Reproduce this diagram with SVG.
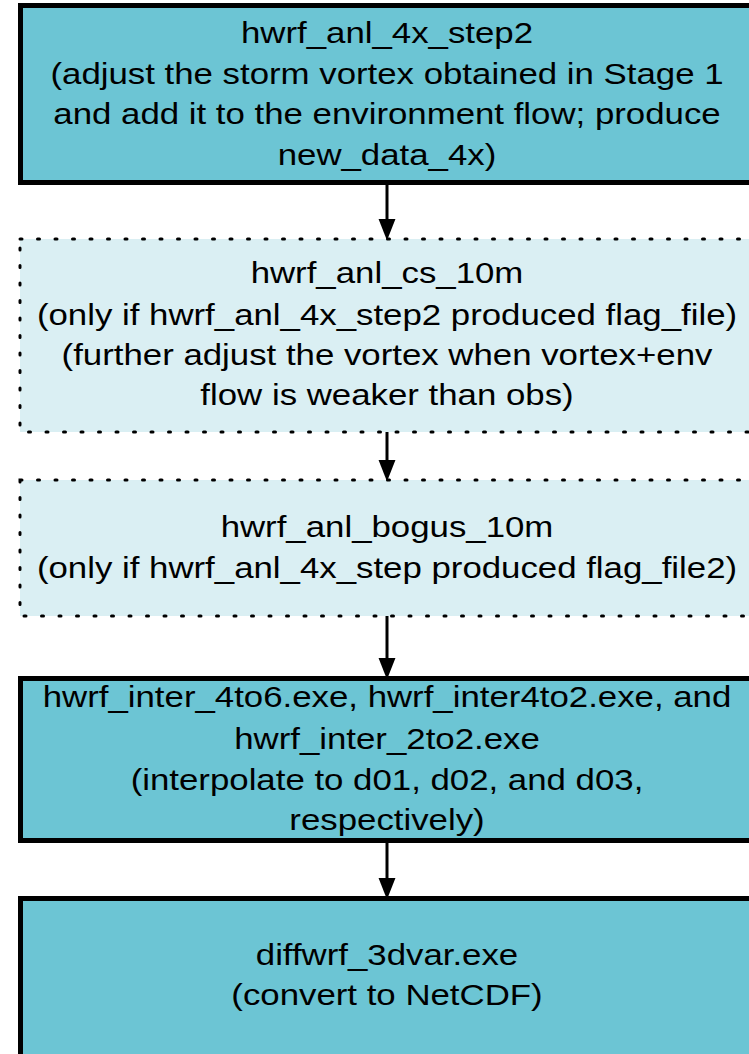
<svg xmlns="http://www.w3.org/2000/svg" width="749" height="1054" viewBox="0 0 749 1054">
<style>
.solid{fill:#6cc5d4;stroke:#000;stroke-width:5}
.dotted{fill:#daeff3;stroke:#000;stroke-width:3;stroke-dasharray:2 15.5;stroke-linecap:round}
text{font-family:"Liberation Sans",Arial,Helvetica,sans-serif;font-size:29.5px;fill:#000;text-anchor:middle}
.conn{stroke:#000;stroke-width:3;fill:none}
</style>
<defs>
<marker id="arr" markerUnits="userSpaceOnUse" markerWidth="22" markerHeight="28" refX="21" refY="11" orient="auto" viewBox="0 0 28 22">
<path d="M0,0 L28,11 L0,22 Z" fill="#000"/>
</marker>
</defs>
<g id="n1">
<rect class="solid" x="20.5" y="5.5" width="740" height="177"/>
<g transform="matrix(1.18,0,0,1,-69.66,0)">
<text x="387" y="43">hwrf_anl_4x_step2</text>
<text x="387" y="84">(adjust the storm vortex obtained in Stage 1</text>
<text x="387" y="124">and add it to the environment flow; produce</text>
<text x="387" y="165">new_data_4x)</text>
</g>
</g>
<g id="n2">
<rect class="dotted" x="20" y="239" width="740" height="193"/>
<g transform="matrix(1.18,0,0,1,-69.66,0)">
<text x="387" y="283">hwrf_anl_cs_10m</text>
<text x="387" y="325">(only if hwrf_anl_4x_step2 produced flag_file)</text>
<text x="387" y="365">(further adjust the vortex when vortex+env</text>
<text x="387" y="405">flow is weaker than obs)</text>
</g>
</g>
<g id="n3">
<rect class="dotted" x="20" y="480" width="740" height="136"/>
<g transform="matrix(1.18,0,0,1,-69.66,0)">
<text x="387" y="537">hwrf_anl_bogus_10m</text>
<text x="387" y="578">(only if hwrf_anl_4x_step produced flag_file2)</text>
</g>
</g>
<g id="n4">
<rect class="solid" x="20.5" y="678.5" width="740" height="162"/>
<g transform="matrix(1.18,0,0,1,-69.66,0)">
<text x="387" y="707">hwrf_inter_4to6.exe, hwrf_inter4to2.exe, and</text>
<text x="387" y="749">hwrf_inter_2to2.exe</text>
<text x="387" y="790">(interpolate to d01, d02, and d03,</text>
<text x="387" y="830">respectively)</text>
</g>
</g>
<g id="n5">
<rect class="solid" x="20.5" y="898.5" width="740" height="200"/>
<g transform="matrix(1.18,0,0,1,-69.66,0)">
<text x="387" y="965">diffwrf_3dvar.exe</text>
<text x="387" y="1005">(convert to NetCDF)</text>
</g>
</g>
<g id="connectors">
<line class="conn" x1="387" y1="185" x2="387" y2="235" marker-end="url(#arr)"/>
<line class="conn" x1="387" y1="432" x2="387" y2="476" marker-end="url(#arr)"/>
<line class="conn" x1="387" y1="616" x2="387" y2="674" marker-end="url(#arr)"/>
<line class="conn" x1="387" y1="843" x2="387" y2="894" marker-end="url(#arr)"/>
</g>
</svg>
